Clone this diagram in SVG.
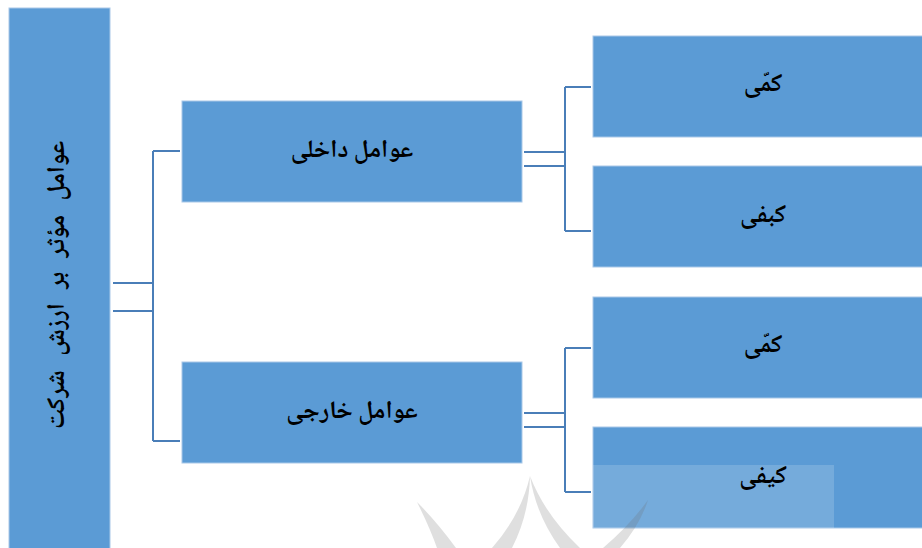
<svg xmlns="http://www.w3.org/2000/svg" width="922" height="548" viewBox="0 0 922 548">
<style>
.box{fill:#5b9bd5;stroke:#a9c8e8;stroke-width:1}
.lbl{font-family:"Noto Naskh Arabic","Noto Sans Arabic","DejaVu Sans",sans-serif;font-weight:bold;font-size:25px;fill:#000;text-anchor:middle;dominant-baseline:central}
.con{fill:none;stroke:#4a7eb8;stroke-width:2}
.wm{fill:#6e6e6e;fill-opacity:0.22}
</style>
<rect width="922" height="548" fill="#fff"/>
<g id="n-root">
<rect class="box" x="9" y="8" width="101" height="545"/>
<text class="lbl" transform="translate(58,285) rotate(-90)" font-size="35" word-spacing="9">عوامل مؤثر بر ارزش شرکت</text>
</g>
<g id="n-internal">
<rect class="box" x="182" y="101" width="340" height="101"/>
<text class="lbl" x="352" y="151">عوامل داخلی</text>
</g>
<g id="n-external">
<rect class="box" x="182" y="362" width="340" height="101"/>
<text class="lbl" x="352" y="412">عوامل خارجی</text>
</g>
<g id="n-int-quant">
<rect class="box" x="593" y="36" width="340" height="101"/>
<text class="lbl" x="763" y="85">کمّی</text>
</g>
<g id="n-int-qual">
<rect class="box" x="593" y="166" width="340" height="101"/>
<text class="lbl" x="763" y="216">کبفی</text>
</g>
<g id="n-ext-quant">
<rect class="box" x="593" y="297" width="340" height="101"/>
<text class="lbl" x="763" y="346">کمّی</text>
</g>
<g id="n-ext-qual">
<rect class="box" x="593" y="427" width="340" height="101"/>
<rect x="593" y="465" width="241" height="63" fill="#ffffff" fill-opacity="0.16"/>
<text class="lbl" x="763" y="477">کیفی</text>
</g>
<g id="watermark">
<path class="wm" d="M417,502 Q430,528 437,548 L456,548 Q437,522 417,502 Z"/>
<path class="wm" d="M530,476 Q521,515 492,548 L512,548 Q529,515 530,476 Z"/>
<path class="wm" d="M530,476 Q536,515 560,548 L580,548 Q545,515 530,476 Z"/>
<path class="wm" d="M648,500 Q630,525 603,548 L620,548 Q640,525 648,500 Z"/>
</g>
<g id="connectors">
<path class="con" d="M113,283 H153 M113,311 H153 M153,151 V441 M153,151 H180 M153,441 H180"/>
<path class="con" d="M524,152 H565 M524,166 H565 M565,87 V231 M565,87 H591 M565,231 H591"/>
<path class="con" d="M524,413 H565 M524,427 H565 M565,348 V492 M565,348 H591 M565,492 H591"/>
</g>
</svg>
